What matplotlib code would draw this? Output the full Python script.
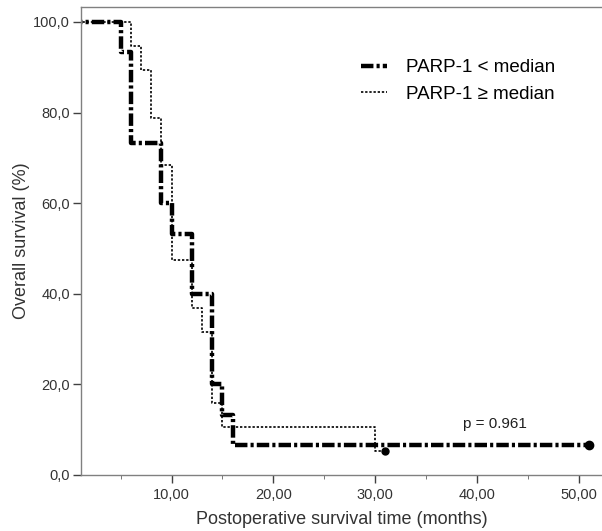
import matplotlib
matplotlib.use('Agg')
import matplotlib.pyplot as plt
from matplotlib.ticker import MultipleLocator, FuncFormatter

plt.rcParams['font.family'] = ['Liberation Sans', 'DejaVu Sans']

# Kaplan-Meier steps
low_t = [0, 5, 6, 9, 10, 12, 14, 15, 16, 51]
low_s = [100, 93.3, 73.3, 60.0, 53.3, 40.0, 20.0, 13.3, 6.7, 6.7]
high_t = [0, 6, 7, 8, 9, 10, 12, 13, 14, 15, 30, 31]
high_s = [100, 94.7, 89.5, 78.9, 68.4, 47.4, 36.8, 31.6, 15.8, 10.5, 5.3, 5.3]
labels = ['PARP-1 < median', 'PARP-1 \u2265 median']
p_text = 'p = 0.961'

fig = plt.figure(figsize=(6.02, 5.31), dpi=100)
ax = fig.add_axes([0.1346, 0.1055, 0.8654, 0.8813])

ax.plot(low_t, low_s, drawstyle='steps-post', color='black', lw=3.2,
        linestyle=(0, (2.8, 0.7, 0.7, 0.7)), label=labels[0])
ax.plot(high_t, high_s, drawstyle='steps-post', color='black', lw=1.2,
        linestyle=(0, (1.4, 1.1)), label=labels[1])
ax.plot(low_t[-1], low_s[-1], 'o', color='black', ms=6)
ax.plot(high_t[-1], high_s[-1], 'o', color='black', ms=5)

ax.set_xlim(1.1, 52.3)
ax.set_ylim(0, 103.3)
ax.xaxis.set_major_locator(MultipleLocator(10))
ax.xaxis.set_minor_locator(MultipleLocator(5))
ax.yaxis.set_major_locator(MultipleLocator(20))
ax.xaxis.set_major_formatter(FuncFormatter(lambda v, p: ('%.2f' % v).replace('.', ',')))
ax.yaxis.set_major_formatter(FuncFormatter(lambda v, p: ('%.1f' % v).replace('.', ',')))

for s in ['left', 'bottom', 'top']:
    ax.spines[s].set_color('#808080')
    ax.spines[s].set_linewidth(1.0)
ax.spines['right'].set_visible(False)
ax.tick_params(axis='both', which='major', length=6, color='#404040', labelsize=10.5,
               labelcolor='#333333', width=1)
ax.tick_params(axis='y', which='major', pad=2)
ax.tick_params(axis='x', which='minor', length=3, color='#606060')

ax.set_xlabel('Postoperative survival time (months)', fontsize=13, color='#333333', labelpad=6)
ax.set_ylabel('Overall survival (%)', fontsize=13, color='#333333', labelpad=2)

leg = ax.legend(loc='upper left', bbox_to_anchor=(0.505, 0.925), frameon=False, fontsize=13.5,
                handlelength=1.4, handletextpad=1.0, labelspacing=0.5)
ax.text(0.7335, 0.109, p_text, transform=ax.transAxes, fontsize=11, color='#202020', va='center')

fig.savefig('out.png', dpi=100)
